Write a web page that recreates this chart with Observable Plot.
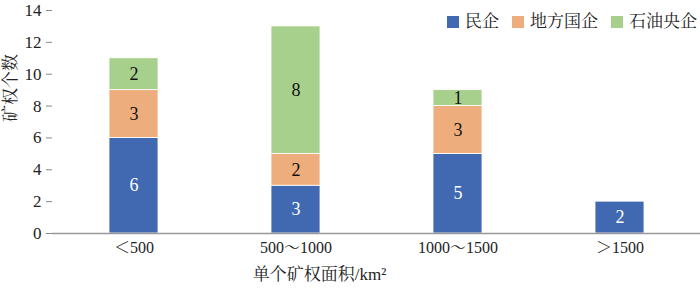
<!DOCTYPE html>
<html>
<head>
<meta charset="utf-8">
<script src="https://cdn.jsdelivr.net/npm/d3@7"></script>
<script src="https://cdn.jsdelivr.net/npm/@observablehq/plot@0.6"></script>
<style>
  html, body { margin: 0; padding: 0; background: #fff; }
  #wrap { position: relative; width: 700px; height: 289px; }
  #legend { position: absolute; top: 12px; left: 447px; font-family: 'Liberation Serif', 'Noto Serif CJK SC', serif; font-size: 17px; line-height: 20px; color: #222; white-space: nowrap; display: flex; align-items: center; }
  #legend span.sw { display: inline-block; width: 12px; height: 12px; margin-right: 6px; }
  #legend span.it { display: inline-flex; align-items: center; margin-right: 13px; }
  svg text { font-family: 'Liberation Serif', 'Noto Serif CJK SC', serif !important; }
</style>
</head>
<body>
<div id="wrap"><div id="legend"></div></div>
<script>
const categories = ["＜500", "500～1000", "1000～1500", "＞1500"];
const series = ["民企", "地方国企", "石油央企"];
const minqi = [6, 3, 5, 2];
const difang = [3, 2, 3, 0];
const yangqi = [2, 8, 1, 0];
const yTicks = [0, 2, 4, 6, 8, 10, 12, 14];
const colors = ["#4169B1", "#EEAD7C", "#A8D08D"];
const textColors = ["#ffffff", "#111111", "#111111"];

const valuesBySeries = [minqi, difang, yangqi];
const data = [];
series.forEach((s, si) => {
  categories.forEach((c, ci) => {
    const v = valuesBySeries[si][ci];
    if (v > 0) data.push({category: c, series: s, value: v});
  });
});

const font = "'Liberation Serif', 'Noto Serif CJK SC', serif";

const chart = Plot.plot({
  width: 700,
  height: 289,
  marginLeft: 52,
  marginRight: 0,
  marginTop: 10,
  marginBottom: 56,
  style: {fontFamily: font, fontSize: "16px", color: "#222", background: "transparent"},
  x: {domain: categories, paddingInner: 0.7, paddingOuter: 0.35, label: null},
  y: {domain: [0, 14], ticks: yTicks, label: null},
  color: {domain: series, range: colors},
  marks: [
    Plot.barY(data, Plot.stackY({x: "category", y: "value", fill: "series", z: "series", order: series, stroke: "white", strokeWidth: 0.8})),
    Plot.text(data, Plot.stackY({x: "category", y: "value", z: "series", order: series, text: d => String(d.value), fill: d => textColors[series.indexOf(d.series)], fontSize: 18})),
    Plot.axisY({ticks: yTicks, tickSize: 6, tickPadding: 5, stroke: "#888", fill: "#222", fontSize: 17, label: null}),
    Plot.ruleX([0], {frameAnchor: "left", stroke: "#999"}),
    Plot.axisX({tickSize: 0, tickPadding: 8, fill: "#222", fontSize: 16, label: null}),
    Plot.ruleY([0], {stroke: "#999", strokeWidth: 1.5}),
    Plot.text(["单个矿权面积/km²"], {frameAnchor: "bottom", dy: 46, dx: -57, fontSize: 17, fill: "#222"}),
    Plot.text(["矿权个数"], {frameAnchor: "left", dx: -42, rotate: -90, fontSize: 17, fill: "#222"})
  ]
});
document.getElementById("wrap").prepend(chart);

const legend = document.getElementById("legend");
series.forEach((s, i) => {
  const it = document.createElement("span");
  it.className = "it";
  const sw = document.createElement("span");
  sw.className = "sw";
  sw.style.background = colors[i];
  it.appendChild(sw);
  it.appendChild(document.createTextNode(s));
  legend.appendChild(it);
});
</script>
</body>
</html>
